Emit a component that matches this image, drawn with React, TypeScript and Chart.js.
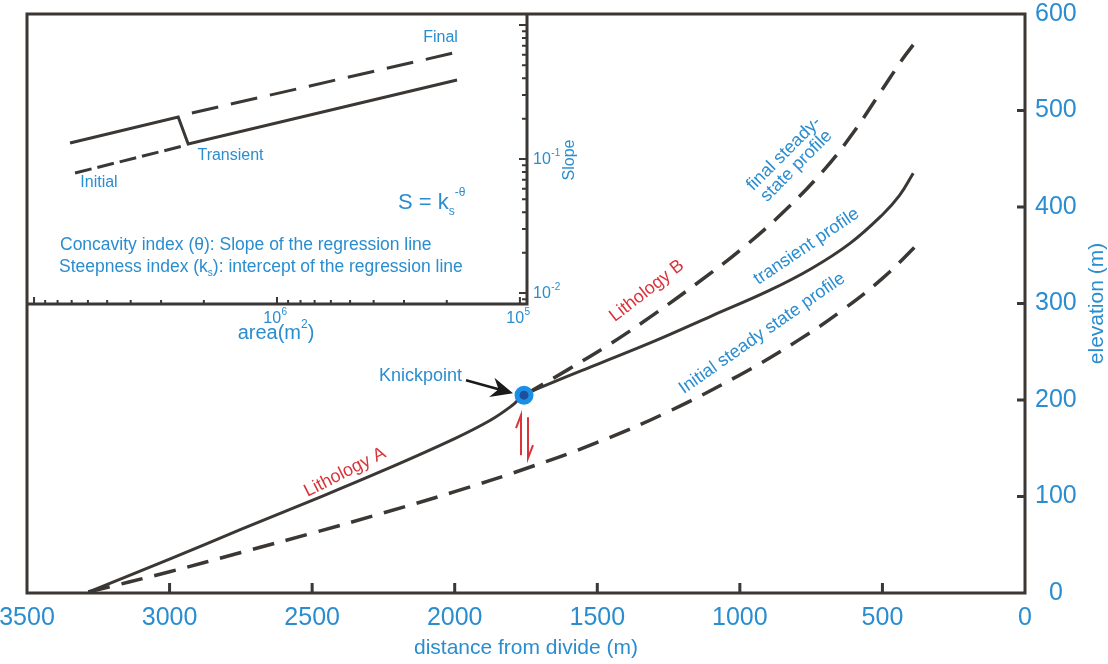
import { useEffect, useRef } from 'react';
import { Chart, registerables } from 'chart.js';

Chart.register(...registerables);

const FONT = "'Liberation Sans', Arial, Helvetica, sans-serif";
const BLUE = '#2a8dcf';
const RED = '#d8343a';
const INK = '#3a3734';

// ---- Main profile: distance from divide (m) vs elevation (m) ----
const transientDistance = [3285, 3000, 2750, 2500, 2250, 2000, 1875, 1800, 1757, 1650, 1500, 1300, 1100, 900, 750, 615, 500, 440, 392];
const transientElevation = [1, 35, 66, 96, 127, 160, 179, 194, 205, 219, 237, 261, 287, 313, 336, 362, 392, 412, 435];
const finalDistance = [1757, 1600, 1450, 1300, 1150, 1000, 850, 700, 600, 500, 430, 392];
const finalElevation = [205, 232, 259, 289, 321, 355, 394, 440, 478, 522, 553, 568];
const initialDistance = [3285, 3000, 2750, 2500, 2250, 2000, 1750, 1500, 1250, 1000, 800, 650, 500, 368];
const initialElevation = [1, 22, 42, 62, 83, 105, 129, 156, 188, 226, 261, 291, 326, 364];
const knickpointDistance = [1757];
const knickpointElevation = [205];

const xTickValues = [3000, 2500, 2000, 1500, 1000, 500];
const yTickValues = [100, 200, 300, 400, 500];

// ---- Inset: slope-area plot ----
const insetTransientArea = [7.11e6, 2.55e6, 2.32e6, 1.815e5];
const insetTransientSlope = [0.1316, 0.2057, 0.1294, 0.3886];
const insetInitialArea = [6.78e6, 2.44e6];
const insetInitialSlope = [0.0786, 0.125];
const insetFinalArea = [2.24e6, 1.8e5];
const insetFinalSlope = [0.2204, 0.6287];
const insetAreaLabels = [1e6, 1e5];
const insetSlopeLabels = [0.1, 0.01];

const toPoints = (xs: number[], ys: number[]) => xs.map((x, i) => ({ x, y: ys[i] }));

const mainNotes = [
  { text: 'Lithology A', d: 2385, e: 125, angle: -27, color: RED },
  { text: 'Lithology B', d: 1326, e: 313, angle: -38, color: RED },
  { text: 'transient profile', d: 766, e: 359, angle: -34, color: BLUE },
  { text: 'Initial steady state profile', d: 922, e: 269, angle: -35, color: BLUE },
  { text: 'Knickpoint', d: 2120, e: 225, angle: 0, color: BLUE },
];
const finalNote = { lines: ['final steady-', 'state profile'], d: 824, e: 449, angle: -45 };

function rotText(ctx: CanvasRenderingContext2D, text: string, x: number, y: number, angle: number, font: string, color: string, align: CanvasTextAlign = 'center') {
  ctx.save();
  ctx.translate(x, y);
  ctx.rotate((angle * Math.PI) / 180);
  ctx.font = font;
  ctx.fillStyle = color;
  ctx.textAlign = align;
  ctx.textBaseline = 'middle';
  ctx.fillText(text, 0, 0);
  ctx.restore();
}

const mainPlugin = {
  id: 'mainDecor',
  beforeDatasetsDraw(chart: any) {
    const { ctx, chartArea: a, scales } = chart;
    ctx.save();
    ctx.strokeStyle = INK;
    ctx.lineWidth = 3;
    ctx.strokeRect(a.left, a.top, a.right - a.left, a.bottom - a.top);
    ctx.beginPath();
    xTickValues.forEach((v) => {
      const px = scales.x.getPixelForValue(v);
      ctx.moveTo(px, a.bottom);
      ctx.lineTo(px, a.bottom - 10);
    });
    yTickValues.forEach((v) => {
      const py = scales.y.getPixelForValue(v);
      ctx.moveTo(a.right, py);
      ctx.lineTo(a.right - 8, py);
    });
    ctx.stroke();
    ctx.restore();
  },
  afterDatasetsDraw(chart: any) {
    const { ctx, chartArea: a, scales } = chart;
    const sx = scales.x, sy = scales.y;
    const f18 = `18px ${FONT}`;
    mainNotes.forEach((n) => {
      rotText(ctx, n.text, sx.getPixelForValue(n.d), sy.getPixelForValue(n.e), n.angle, f18, n.color);
    });
    const cx = sx.getPixelForValue(finalNote.d), cy = sy.getPixelForValue(finalNote.e);
    ctx.save();
    ctx.translate(cx, cy);
    ctx.rotate((finalNote.angle * Math.PI) / 180);
    ctx.font = f18;
    ctx.fillStyle = BLUE;
    ctx.textAlign = 'center';
    ctx.textBaseline = 'middle';
    ctx.fillText(finalNote.lines[0], 0, -8.5);
    ctx.fillText(finalNote.lines[1], 0, 9);
    ctx.restore();

    // arrow to knickpoint
    const kx = sx.getPixelForValue(knickpointDistance[0]);
    const ky = sy.getPixelForValue(knickpointElevation[0]);
    const tx = kx - 11, ty = ky - 2;
    const bx = kx - 58, by = ky - 15;
    const len = Math.hypot(tx - bx, ty - by);
    const ux = (tx - bx) / len, uy = (ty - by) / len;
    ctx.save();
    ctx.strokeStyle = '#1a1a1a';
    ctx.fillStyle = '#1a1a1a';
    ctx.lineWidth = 2.5;
    ctx.beginPath();
    ctx.moveTo(bx, by);
    ctx.lineTo(tx - ux * 14, ty - uy * 14);
    ctx.stroke();
    ctx.beginPath();
    ctx.moveTo(tx, ty);
    ctx.lineTo(tx - ux * 22 - uy * 10, ty - uy * 22 + ux * 10);
    ctx.lineTo(tx - ux * 15, ty - uy * 15);
    ctx.lineTo(tx - ux * 22 + uy * 10, ty - uy * 22 - ux * 10);
    ctx.closePath();
    ctx.fill();
    ctx.restore();

    // red harpoons (up / down)
    ctx.save();
    ctx.strokeStyle = RED;
    ctx.lineWidth = 2;
    ctx.beginPath();
    ctx.moveTo(kx - 3, ky + 60);
    ctx.lineTo(kx - 3, ky + 20);
    ctx.lineTo(kx - 8, ky + 33);
    ctx.moveTo(kx + 4, ky + 22);
    ctx.lineTo(kx + 4, ky + 63);
    ctx.lineTo(kx + 9, ky + 50);
    ctx.stroke();
    ctx.restore();

    // y-axis title (reads bottom to top)
    rotText(ctx, 'elevation (m)', a.right + 72, (a.top + a.bottom) / 2, -90, `21px ${FONT}`, BLUE);
  },
};

function drawPow(ctx: CanvasRenderingContext2D, base: string, exp: string, x: number, y: number, align: 'center' | 'left', size = 16) {
  ctx.save();
  ctx.textBaseline = 'middle';
  ctx.textAlign = 'left';
  ctx.fillStyle = BLUE;
  ctx.font = `${size}px ${FONT}`;
  const wb = ctx.measureText(base).width;
  ctx.font = `${Math.round(size * 0.6)}px ${FONT}`;
  const we = ctx.measureText(exp).width;
  const start = align === 'center' ? x - (wb + we) / 2 : x;
  ctx.font = `${size}px ${FONT}`;
  ctx.fillText(base, start, y);
  ctx.font = `${Math.round(size * 0.6)}px ${FONT}`;
  ctx.fillText(exp, start + wb + 0.5, y - size * 0.42);
  ctx.restore();
}

const insetNotes = [
  { text: 'Final', dx: 413.5, dy: 24 },
  { text: 'Transient', dx: 203.5, dy: 142 },
  { text: 'Initial', dx: 72, dy: 169 },
];

const insetPlugin = {
  id: 'insetDecor',
  afterDraw(chart: any) {
    const { ctx, chartArea: a, scales } = chart;
    const sx = scales.x, sy = scales.y;
    ctx.save();
    ctx.strokeStyle = INK;
    ctx.lineWidth = 3;
    ctx.beginPath();
    ctx.moveTo(a.left, a.bottom);
    ctx.lineTo(a.right, a.bottom);
    ctx.lineTo(a.right, a.top);
    ctx.stroke();
    ctx.lineWidth = 2;
    ctx.beginPath();
    for (let e = 4; e <= 7; e++) {
      for (let m = 1; m <= 9; m++) {
        const v = m * Math.pow(10, e);
        const px = sx.getPixelForValue(v);
        if (px < a.left + 4 || px > a.right - 4) continue;
        ctx.moveTo(px, a.bottom);
        ctx.lineTo(px, a.bottom - (m === 1 ? 7 : 4));
      }
    }
    for (let e = -3; e <= 0; e++) {
      for (let m = 1; m <= 9; m++) {
        const v = m * Math.pow(10, e);
        const py = sy.getPixelForValue(v);
        if (py < a.top + 3 || py > a.bottom - 3) continue;
        ctx.moveTo(a.right, py);
        ctx.lineTo(a.right - (m === 1 ? 8 : 5), py);
      }
    }
    ctx.stroke();
    ctx.restore();

    insetAreaLabels.forEach((v) => {
      const px = sx.getPixelForValue(v);
      drawPow(ctx, '10', String(Math.round(Math.log10(v))), px - 2, a.bottom + 15, 'center');
    });
    insetSlopeLabels.forEach((v) => {
      const py = sy.getPixelForValue(v);
      drawPow(ctx, '10', String(Math.round(Math.log10(v))), a.right + 6, py + 1, 'left');
    });

    ctx.save();
    ctx.fillStyle = BLUE;
    ctx.textBaseline = 'middle';
    ctx.font = `20px ${FONT}`;
    const t1 = 'area(m', t2 = ')';
    const w1 = ctx.measureText(t1).width, w2 = ctx.measureText(t2).width;
    ctx.font = `12px ${FONT}`;
    const ws = ctx.measureText('2').width;
    const cx = sx.getPixelForValue(1e6) - 1;
    const st = cx - (w1 + ws + w2) / 2;
    const ty = a.bottom + 29;
    ctx.font = `20px ${FONT}`;
    ctx.fillText(t1, st, ty);
    ctx.fillText(t2, st + w1 + ws, ty);
    ctx.font = `12px ${FONT}`;
    ctx.fillText('2', st + w1, ty - 8);
    ctx.restore();
    rotText(ctx, 'Slope', a.right + 43, sy.getPixelForValue(0.1) + 1, -90, `16px ${FONT}`, BLUE);

    insetNotes.forEach((n) => rotText(ctx, n.text, a.left + n.dx, a.top + n.dy, 0, `16px ${FONT}`, BLUE));

    ctx.save();
    ctx.fillStyle = BLUE;
    ctx.textBaseline = 'middle';
    ctx.textAlign = 'left';
    ctx.font = `22px ${FONT}`;
    const fx = a.left + 371, fy = a.top + 189;
    ctx.fillText('S = k', fx, fy);
    const wf = ctx.measureText('S = k').width;
    ctx.font = `12px ${FONT}`;
    ctx.fillText('s', fx + wf, fy + 9);
    ctx.fillText('-θ', fx + wf + 6, fy - 10);

    ctx.font = `17.5px ${FONT}`;
    ctx.fillText('Concavity index (θ): Slope of the regression line', a.left + 33, a.top + 231);
    const lx = a.left + 32, ly = a.top + 253;
    const p1 = 'Steepness index (k';
    ctx.fillText(p1, lx, ly);
    const wp = ctx.measureText(p1).width;
    ctx.font = `10px ${FONT}`;
    ctx.fillText('s', lx + wp, ly + 6);
    const wsub = ctx.measureText('s').width;
    ctx.font = `17.5px ${FONT}`;
    ctx.fillText('): intercept of the regression line', lx + wp + wsub, ly);
    ctx.restore();
  },
};

export default function App() {
  const mainRef = useRef<HTMLCanvasElement>(null);
  const insetRef = useRef<HTMLCanvasElement>(null);

  useEffect(() => {
    const main = new Chart(mainRef.current as HTMLCanvasElement, {
      type: 'line',
      data: {
        datasets: [
          {
            label: 'Knickpoint',
            data: toPoints(knickpointDistance, knickpointElevation),
            showLine: false,
            pointRadius: 7,
            pointBorderWidth: 5,
            pointBackgroundColor: '#1e4f9c',
            pointBorderColor: '#1b8fe3',
          },
          {
            label: 'transient profile',
            data: toPoints(transientDistance, transientElevation),
            borderColor: INK,
            borderWidth: 3,
            pointRadius: 0,
            tension: 0.4,
          },
          {
            label: 'final steady-state profile',
            data: toPoints(finalDistance, finalElevation),
            borderColor: INK,
            borderWidth: 3.5,
            borderDash: [22, 12],
            pointRadius: 0,
            tension: 0.4,
          },
          {
            label: 'Initial steady state profile',
            data: toPoints(initialDistance, initialElevation),
            borderColor: INK,
            borderWidth: 3.5,
            borderDash: [22, 12],
            pointRadius: 0,
            tension: 0.4,
          },
        ],
      },
      options: {
        animation: false,
        responsive: false,
        maintainAspectRatio: false,
        layout: { padding: { left: 27, top: 14, right: 0, bottom: 0 } },
        plugins: { legend: { display: false }, tooltip: { enabled: false } },
        scales: {
          x: {
            type: 'linear',
            position: 'bottom',
            reverse: true,
            min: 0,
            max: 3500,
            ticks: { stepSize: 500, color: BLUE, font: { family: FONT, size: 25 }, padding: 10, maxRotation: 0, autoSkip: false, callback: (v: any) => String(v) },
            grid: { display: false, drawTicks: false },
            border: { display: false },
            title: { display: true, text: 'distance from divide (m)', color: BLUE, font: { family: FONT, size: 21 }, padding: { top: 0, bottom: 3 } },
            afterFit: (s: any) => { s.height = 71; s.paddingLeft = 0; s.paddingRight = 0; },
          },
          y: {
            type: 'linear',
            position: 'right',
            min: 0,
            max: 600,
            ticks: { stepSize: 100, color: BLUE, font: { family: FONT, size: 25 }, padding: 10, crossAlign: 'center', callback: (v: any) => String(v) },
            grid: { display: false, drawTicks: false },
            border: { display: false },
            afterFit: (s: any) => { s.width = 83; s.paddingTop = 0; s.paddingBottom = 0; },
          },
        },
      } as any,
      plugins: [mainPlugin],
    });

    const inset = new Chart(insetRef.current as HTMLCanvasElement, {
      type: 'line',
      data: {
        datasets: [
          {
            label: 'Transient',
            data: toPoints(insetTransientArea, insetTransientSlope),
            borderColor: INK,
            borderWidth: 3,
            pointRadius: 0,
            tension: 0,
          },
          {
            label: 'Initial',
            data: toPoints(insetInitialArea, insetInitialSlope),
            borderColor: INK,
            borderWidth: 3,
            borderDash: [17, 6],
            pointRadius: 0,
            tension: 0,
          },
          {
            label: 'Final',
            data: toPoints(insetFinalArea, insetFinalSlope),
            borderColor: INK,
            borderWidth: 3,
            borderDash: [27, 13],
            pointRadius: 0,
            tension: 0,
          },
        ],
      },
      options: {
        animation: false,
        responsive: false,
        maintainAspectRatio: false,
        layout: { padding: { left: 27, top: 14, right: 73, bottom: 56 } },
        plugins: { legend: { display: false }, tooltip: { enabled: false } },
        scales: {
          x: { type: 'logarithmic', reverse: true, min: 9.35e4, max: 1.069e7, display: false, bounds: 'data' },
          y: { type: 'logarithmic', min: 0.00828, max: 1.208, display: false, bounds: 'data' },
        },
      } as any,
      plugins: [insetPlugin],
    });

    return () => {
      main.destroy();
      inset.destroy();
    };
  }, []);

  return (
    <div style={{ position: 'absolute', left: 0, top: 0, width: 1108, height: 664, background: '#ffffff' }}>
      <canvas ref={mainRef} width={1108} height={664} style={{ position: 'absolute', left: 0, top: 0, width: 1108, height: 664 }} />
      <canvas ref={insetRef} width={600} height={360} style={{ position: 'absolute', left: 0, top: 0, width: 600, height: 360, pointerEvents: 'none' }} />
    </div>
  );
}
